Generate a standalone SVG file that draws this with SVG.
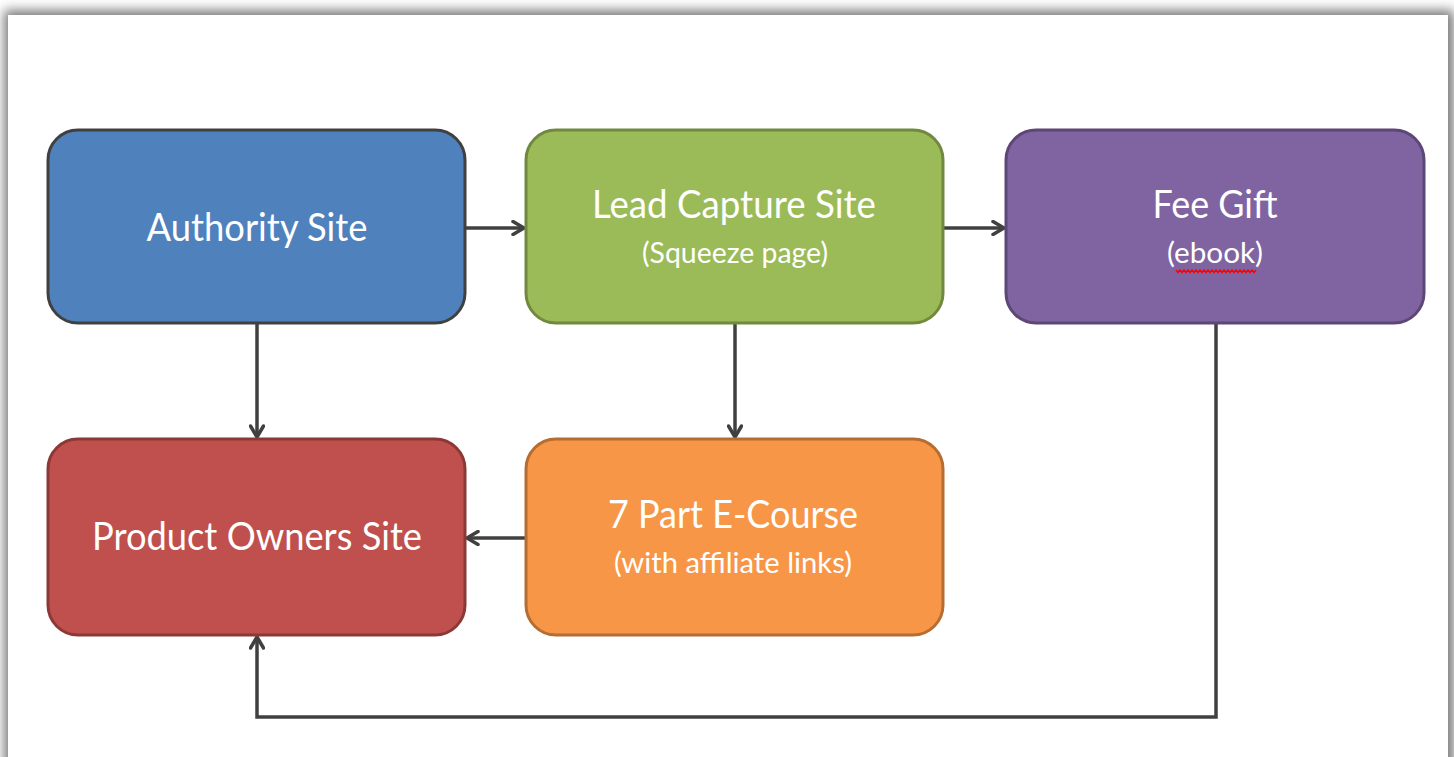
<svg xmlns="http://www.w3.org/2000/svg" width="1454" height="757" viewBox="0 0 1454 757">
  <defs>
    <filter id="shadow" x="-5%" y="-5%" width="110%" height="110%">
      <feGaussianBlur stdDeviation="6"/>
    </filter>
    <marker id="arrow" viewBox="0 0 16 16" refX="14" refY="8" markerWidth="16" markerHeight="16" markerUnits="userSpaceOnUse" orient="auto">
      <path d="M3,1.5 L14,8 L3,14.5" fill="none" stroke="#404040" stroke-width="3.5" stroke-linecap="round" stroke-linejoin="round"/>
    </marker>
  </defs>
  <style>
    .box { stroke-width: 3; }
    .t1 { font-family: Lato, "Liberation Sans", sans-serif; font-size: 39px; fill: #ffffff; text-anchor: middle; }
    .t2 { font-family: Lato, "Liberation Sans", sans-serif; font-size: 28px; fill: #ffffff; text-anchor: middle; }
    .conn { fill: none; stroke: #404040; stroke-width: 3.5; marker-end: url(#arrow); }
  </style>
  <rect width="1454" height="757" fill="#ffffff"/>
  <rect x="4" y="10" width="1450" height="770" fill="#7a7a7a" filter="url(#shadow)"/>
  <rect x="8" y="15" width="1440" height="750" fill="#ffffff"/>

  <g id="connectors">
    <path class="conn" d="M465,228 H524"/>
    <path class="conn" d="M943,228 H1004"/>
    <path class="conn" d="M257,323 V437"/>
    <path class="conn" d="M735,323 V437"/>
    <path class="conn" d="M526,538 H467"/>
    <path class="conn" d="M1216,323 V717 H257 V637"/>
  </g>

  <g id="authority-site">
    <rect class="box" x="48" y="130" width="417" height="193" rx="30" fill="#4F81BD" stroke="#404040"/>
    <text class="t1" x="257" y="241" textLength="221" lengthAdjust="spacingAndGlyphs">Authority Site</text>
  </g>
  <g id="lead-capture-site">
    <rect class="box" x="526" y="130" width="417" height="193" rx="30" fill="#9BBB59" stroke="#71893F"/>
    <text class="t1" x="734" y="218" textLength="284" lengthAdjust="spacingAndGlyphs">Lead Capture Site</text>
    <text class="t2" x="735" y="263" textLength="186" lengthAdjust="spacingAndGlyphs">(Squeeze page)</text>
  </g>
  <g id="fee-gift">
    <rect class="box" x="1006" y="130" width="418" height="193" rx="30" fill="#8064A2" stroke="#5C4776"/>
    <text class="t1" x="1215" y="218" textLength="125" lengthAdjust="spacingAndGlyphs">Fee Gift</text>
    <text class="t2" x="1215" y="263" textLength="96" lengthAdjust="spacingAndGlyphs">(ebook)</text>
    <polyline points="1176,270 1178,272.5 1180,270 1182,272.5 1184,270 1186,272.5 1188,270 1190,272.5 1192,270 1194,272.5 1196,270 1198,272.5 1200,270 1202,272.5 1204,270 1206,272.5 1208,270 1210,272.5 1212,270 1214,272.5 1216,270 1218,272.5 1220,270 1222,272.5 1224,270 1226,272.5 1228,270 1230,272.5 1232,270 1234,272.5 1236,270 1238,272.5 1240,270 1242,272.5 1244,270 1246,272.5 1248,270 1250,272.5 1252,270 1254,272.5 1256,270" fill="none" stroke="#FF0000" stroke-width="1.5"/>
  </g>
  <g id="product-owners-site">
    <rect class="box" x="48" y="439" width="417" height="196" rx="30" fill="#C0504D" stroke="#8C3836"/>
    <text class="t1" x="257" y="550" textLength="330" lengthAdjust="spacingAndGlyphs">Product Owners Site</text>
  </g>
  <g id="e-course">
    <rect class="box" x="526" y="439" width="417" height="196" rx="30" fill="#F79646" stroke="#B66D31"/>
    <text class="t1" x="733" y="528" textLength="250" lengthAdjust="spacingAndGlyphs">7 Part E-Course</text>
    <text class="t2" x="733" y="573" textLength="238" lengthAdjust="spacingAndGlyphs">(with affiliate links)</text>
  </g>
</svg>
